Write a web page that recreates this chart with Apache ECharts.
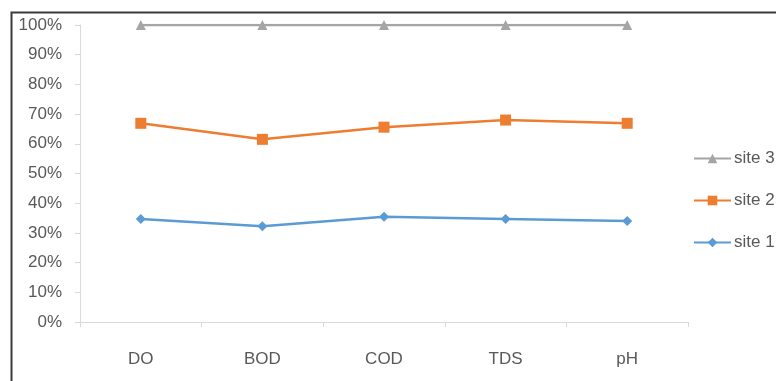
<!DOCTYPE html>
<html><head><meta charset="utf-8">
<script src="https://cdn.jsdelivr.net/npm/echarts@6/dist/echarts.min.js"></script>
<style>html,body{margin:0;padding:0;background:#fff}#c{width:776px;height:381px}</style>
</head><body><div id="c"></div>
<script>
const categories = ['DO', 'BOD', 'COD', 'TDS', 'pH'];
const site1 = [34.7, 32.2, 35.4, 34.7, 34.0];
const site2 = [66.9, 61.5, 65.6, 68.0, 66.9];
const site3 = [100, 100, 100, 100, 100];
const yTicks = [0, 10, 20, 30, 40, 50, 60, 70, 80, 90, 100];

const chart = echarts.init(document.getElementById('c'), null, {renderer: 'canvas'});
const font = 'Liberation Sans';
chart.setOption({
  animation: false,
  backgroundColor: '#fff',
  graphic: [{
    type: 'rect', left: 9, top: 10, z: 100,
    shape: {width: 800, height: 400},
    style: {fill: 'none', stroke: '#3a3a3a', lineWidth: 2}
  }],
  grid: {left: 80, right: 88, top: 25, bottom: 59},
  legend: {
    orient: 'vertical', left: 693, top: 150, itemGap: 25, padding: 0,
    itemWidth: 37, itemHeight: 12,
    data: ['site 3', 'site 2', 'site 1'],
    textStyle: {color: '#595959', fontFamily: font, fontSize: 17, padding: [0, 0, 0, -2]}
  },
  xAxis: {
    type: 'category', data: categories, boundaryGap: true,
    axisLine: {lineStyle: {color: '#d9d9d9', width: 1}},
    axisTick: {show: true, length: 5, lineStyle: {color: '#d9d9d9'}},
    axisLabel: {color: '#595959', fontFamily: font, fontSize: 17, margin: 29}
  },
  yAxis: {
    type: 'value', min: 0, max: 100, interval: 10,
    axisLine: {show: true, lineStyle: {color: '#d9d9d9', width: 1}},
    axisTick: {show: true, length: 5, lineStyle: {color: '#d9d9d9'}},
    splitLine: {show: false},
    axisLabel: {color: '#595959', fontFamily: font, fontSize: 17, margin: 18,
      formatter: v => yTicks.includes(v) ? v + '%' : ''}
  },
  series: [
    {name: 'site 3', type: 'line', data: site3, symbol: 'triangle', symbolSize: 10,
     itemStyle: {color: '#a5a5a5'}, lineStyle: {color: '#a5a5a5', width: 2.5}},
    {name: 'site 2', type: 'line', data: site2, symbol: 'rect', symbolSize: 11,
     itemStyle: {color: '#ed7d31'}, lineStyle: {color: '#ed7d31', width: 2.5}},
    {name: 'site 1', type: 'line', data: site1, symbol: 'diamond', symbolSize: 10,
     itemStyle: {color: '#5b9bd5'}, lineStyle: {color: '#5b9bd5', width: 2.5}}
  ]
});
</script></body></html>
